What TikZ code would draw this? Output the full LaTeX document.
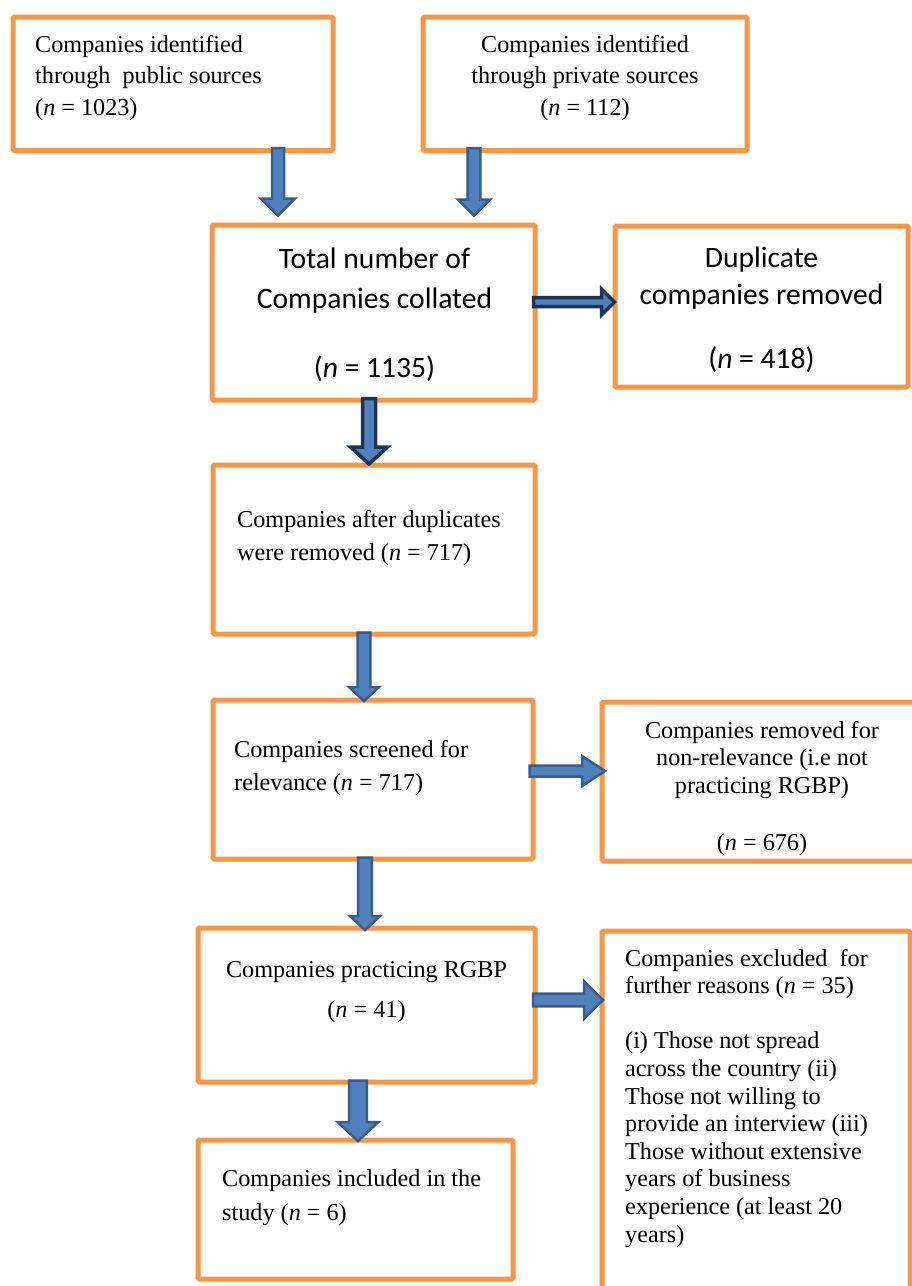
\documentclass[tikz,border=0pt]{standalone}
\usepackage{fontspec}
\setmainfont{Liberation Serif}
\newfontfamily\calibrifont{Carlito}
\usetikzlibrary{calc}
\definecolor{boxorange}{HTML}{F79646}
\definecolor{arrowblue}{HTML}{4F81BD}
\definecolor{arrowedge}{HTML}{385D8A}
\definecolor{arrownavy}{HTML}{1C3353}
\tikzset{
  box/.style={draw=boxorange, line width=5pt, rounded corners=1.5pt, inner sep=0pt},
  tnr/.style={inner sep=0pt, font=\fontsize{24.2}{#1}\selectfont},
  cal/.style={inner sep=0pt, font=\calibrifont\fontsize{29.6}{#1}\selectfont},
  blkarrow/.style={fill=arrowblue, draw=arrowedge, line width=2.5pt, line join=miter},
  navyarrow/.style={fill=arrowblue, draw=arrownavy, line width=3.5pt, line join=miter},
}
% #1 style, #2 start, #3 tip, #4 shaft half width, #5 head half width, #6 head length
\newcommand{\blkdown}[6]{%
  \draw[#1] let \p1=(#2), \p2=(#3) in
    (\x1-#4,\y1) -- (\x1+#4,\y1) -- (\x1+#4,\y2+#6) -- (\x1+#5,\y2+#6) -- (\x1,\y2)
    -- (\x1-#5,\y2+#6) -- (\x1-#4,\y2+#6) -- cycle;}
\newcommand{\blkright}[6]{%
  \draw[#1] let \p1=(#2), \p2=(#3) in
    (\x1,\y1+#4) -- (\x2-#6,\y1+#4) -- (\x2-#6,\y1+#5) -- (\x2,\y1) -- (\x2-#6,\y1-#5)
    -- (\x2-#6,\y1-#4) -- (\x1,\y1-#4) -- cycle;}
\begin{document}
\begin{tikzpicture}[x=1pt,y=-1pt]
\useasboundingbox (0,0) rectangle (912,1286);
\fill[white] (0,0) rectangle (912,1286);
\clip (0,0) rectangle (912,1286);

% boxes
\node[box, minimum width=320pt, minimum height=133.5pt] (A) at (173,83.75) {};
\node[box, minimum width=324pt, minimum height=133.5pt] (B) at (585,83.75) {};
\node[box, minimum width=323pt, minimum height=175pt] (C) at (373.5,312.5) {};
\node[box, minimum width=293pt, minimum height=161pt] (D) at (761.5,306.5) {};
\node[box, minimum width=322pt, minimum height=169pt] (E) at (374,549.5) {};
\node[box, minimum width=320pt, minimum height=159pt] (F) at (373,779.5) {};
\node[box, minimum width=320pt, minimum height=159pt] (G) at (762,781.5) {};
\node[box, minimum width=337pt, minimum height=154pt] (H) at (366.5,1005) {};
\node[box, minimum width=308pt, minimum height=369pt] (I) at (756,1115.5) {};
\node[box, minimum width=315pt, minimum height=139pt] (J) at (355.5,1209.5) {};

% texts
\node[tnr=31.5, anchor=base west] (At) at (35,52)
  {\begin{tabular}[t]{@{}l@{}}Companies identified\\through\ \ public sources\\(\textit{n} = 1023)\end{tabular}};
\node[tnr=31.5, anchor=base] (Bt) at (585,52)
  {\begin{tabular}[t]{@{}c@{}}Companies identified\\through private sources\\(\textit{n} = 112)\end{tabular}};
\node[cal=40, anchor=base] (Ct) at (374.5,268)
  {\begin{tabular}[t]{@{}c@{}}Total number of\\Companies collated\\[29pt](\textit{n} = 1135)\end{tabular}};
\node[cal=37, anchor=base] (Dt) at (761.5,267)
  {\begin{tabular}[t]{@{}c@{}}Duplicate\\companies removed\\[27pt](\textit{n} = 418)\end{tabular}};
\node[tnr=33, anchor=base west] (Et) at (237,527)
  {\begin{tabular}[t]{@{}l@{}}Companies after duplicates\\were removed (\textit{n} = 717)\end{tabular}};
\node[tnr=33, anchor=base west] (Ft) at (234,757)
  {\begin{tabular}[t]{@{}l@{}}Companies screened for\\relevance (\textit{n} = 717)\end{tabular}};
\node[tnr=27.5, anchor=base] (Gt) at (762,738)
  {\begin{tabular}[t]{@{}c@{}}Companies removed for\\non-relevance (i.e not\\practicing RGBP)\\[29.5pt](\textit{n} = 676)\end{tabular}};
\node[tnr=40, anchor=base] (Ht) at (366.5,977)
  {\begin{tabular}[t]{@{}c@{}}Companies practicing RGBP\\(\textit{n} = 41)\end{tabular}};
\node[tnr=27.6, anchor=base west] (It) at (625,966)
  {\begin{tabular}[t]{@{}l@{}}Companies excluded\ \ for\\further reasons (\textit{n} = 35)\\[27.6pt](i) Those not spread\\across the country (ii)\\Those not willing to\\provide an interview (iii)\\Those without extensive\\years of business\\experience (at least 20\\years)\end{tabular}};
\node[tnr=34, anchor=base west] (Jt) at (222,1186)
  {\begin{tabular}[t]{@{}l@{}}Companies included in the\\study (\textit{n} = 6)\end{tabular}};

% block arrows
\blkdown{blkarrow}{$(A.south -| 278,0)+(0,-5)$}{$(C.north -| 278,0)+(0,-7)$}{6pt}{17pt}{17pt}
\blkdown{blkarrow}{$(B.south -| 474,0)+(0,-5)$}{$(C.north -| 474,0)+(0,-7)$}{6.3pt}{16pt}{16pt}
\blkright{navyarrow}{$(C.east |- 0,302)+(-4,0)$}{$(D.west |- 0,302)+(2,0)$}{4.5pt}{13pt}{13pt}
\blkdown{navyarrow}{$(C.south -| 369,0)+(0,-4)$}{$(E.north -| 369,0)+(0,1.5)$}{6.5pt}{18.5pt}{17pt}
\blkdown{blkarrow}{$(E.south -| 364,0)+(0,-4)$}{$(F.north -| 364,0)+(0,3.5)$}{6.3pt}{15pt}{14pt}
\blkright{blkarrow}{$(F.east |- 0,771)+(-6,0)$}{$(G.west |- 0,771)+(5.5,0)$}{5.5pt}{15pt}{23pt}
\blkdown{blkarrow}{$(F.south -| 365,0)+(0,-4)$}{$(H.north -| 365,0)+(0,4.5)$}{6.8pt}{15pt}{14pt}
\blkright{blkarrow}{$(H.east |- 0,1000)+(-4.5,0)$}{$(I.west |- 0,1000)+(3.5,0)$}{6.3pt}{18.8pt}{19pt}
\blkdown{blkarrow}{$(H.south -| 358,0)+(0,-4)$}{$(J.north -| 358,0)+(0,3.5)$}{8.8pt}{20.3pt}{19pt}
\end{tikzpicture}
\end{document}
